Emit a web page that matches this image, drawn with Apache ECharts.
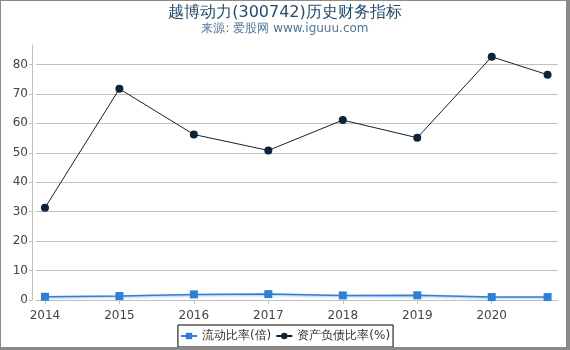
<!DOCTYPE html>
<html>
<head>
<meta charset="utf-8">
<script src="https://cdn.jsdelivr.net/npm/echarts@6/dist/echarts.min.js"></script>
<style>
html,body{margin:0;padding:0;background:#fff;}
#c{width:570px;height:350px;position:relative;}
.b{position:absolute;background:#8a8a8a;pointer-events:none;}
</style>
</head>
<body>
<div id="wrap" style="position:relative;width:570px;height:350px;">
<div id="c"></div>
<div class="b" style="left:0;top:0;width:570px;height:1px;"></div>
<div class="b" style="left:0;top:0;width:1px;height:350px;"></div>
<div class="b" style="left:566px;top:0;width:4px;height:350px;"></div>
<div class="b" style="left:0;top:347px;width:570px;height:3px;"></div>
</div>
<script>
const titleText = '越博动力(300742)历史财务指标';
const subtitleText = '来源: 爱股网 www.iguuu.com';
const periods = [2014, 2015, 2016, 2017, 2018, 2019, 2020, 2020.75];
const currentRatio = [1.1, 1.35, 1.9, 2.0, 1.55, 1.6, 1.0, 1.0];
const debtRatio = [31.3, 71.7, 56.2, 50.8, 61.1, 55.1, 82.6, 76.5];
const xTickLabels = [2014, 2015, 2016, 2017, 2018, 2019, 2020];
const seriesNames = ['流动比率(倍)', '资产负债比率(%)'];

const pair = (xs, ys) => xs.map((x, i) => [x, ys[i]]);
const font = 'DejaVu Sans';

const chart = echarts.init(document.getElementById('c'), null, {renderer: 'canvas'});
chart.setOption({
  animation: false,
  backgroundColor: '#fff',
  title: {
    text: titleText,
    subtext: subtitleText,
    left: 'center',
    top: 0,
    itemGap: 2,
    textStyle: {fontFamily: font, fontSize: 16, fontWeight: 'normal', color: '#274b6d'},
    subtextStyle: {fontFamily: font, fontSize: 12, color: '#4d759e'}
  },
  legend: {
    bottom: 3,
    left: 'center',
    borderColor: '#000',
    borderWidth: 1,
    borderRadius: 0,
    padding: [5, 3, 5, 2],
    itemGap: 4,
    itemWidth: 16,
    itemHeight: 8,
    textStyle: {fontFamily: font, fontSize: 12, color: '#333'},
    data: seriesNames
  },
  grid: {left: 36, right: 12, top: 45, bottom: 50},
  xAxis: {
    type: 'value',
    min: 2013.88,
    max: 2020.89,
    offset: 4,
    splitLine: {show: false},
    axisLine: {show: true, lineStyle: {color: '#c0c0c0'}},
    axisTick: {show: true, length: 4, customValues: xTickLabels, lineStyle: {color: '#c0c0c0'}},
    axisLabel: {customValues: xTickLabels, formatter: v => String(v), color: '#444', fontFamily: font, fontSize: 12, margin: 6}
  },
  yAxis: {
    type: 'value',
    min: 0,
    max: 86.6,
    interval: 10,
    offset: 4,
    axisLine: {show: true, lineStyle: {color: '#c0c0c0'}},
    axisTick: {show: true, length: 3, lineStyle: {color: '#c0c0c0'}},
    axisLabel: {showMaxLabel: false, color: '#444', fontFamily: font, fontSize: 12, margin: 4},
    splitLine: {show: true, showMinLine: false, showMaxLine: false, lineStyle: {color: '#c0c0c0', width: 1}}
  },
  series: [
    {
      name: seriesNames[0],
      type: 'line',
      data: pair(periods, currentRatio),
      symbol: 'rect',
      symbolSize: 8,
      color: '#2f7ed8',
      lineStyle: {width: 1.5, color: '#2f7ed8', shadowColor: 'rgba(47,126,216,0.45)', shadowBlur: 2, shadowOffsetY: 1},
      itemStyle: {color: '#2f7ed8'}
    },
    {
      name: seriesNames[1],
      type: 'line',
      data: pair(periods, debtRatio),
      symbol: 'circle',
      symbolSize: 8,
      color: '#0d233a',
      lineStyle: {width: 1, color: '#0d233a'},
      itemStyle: {color: '#0d233a'}
    }
  ]
});
</script>
</body>
</html>
